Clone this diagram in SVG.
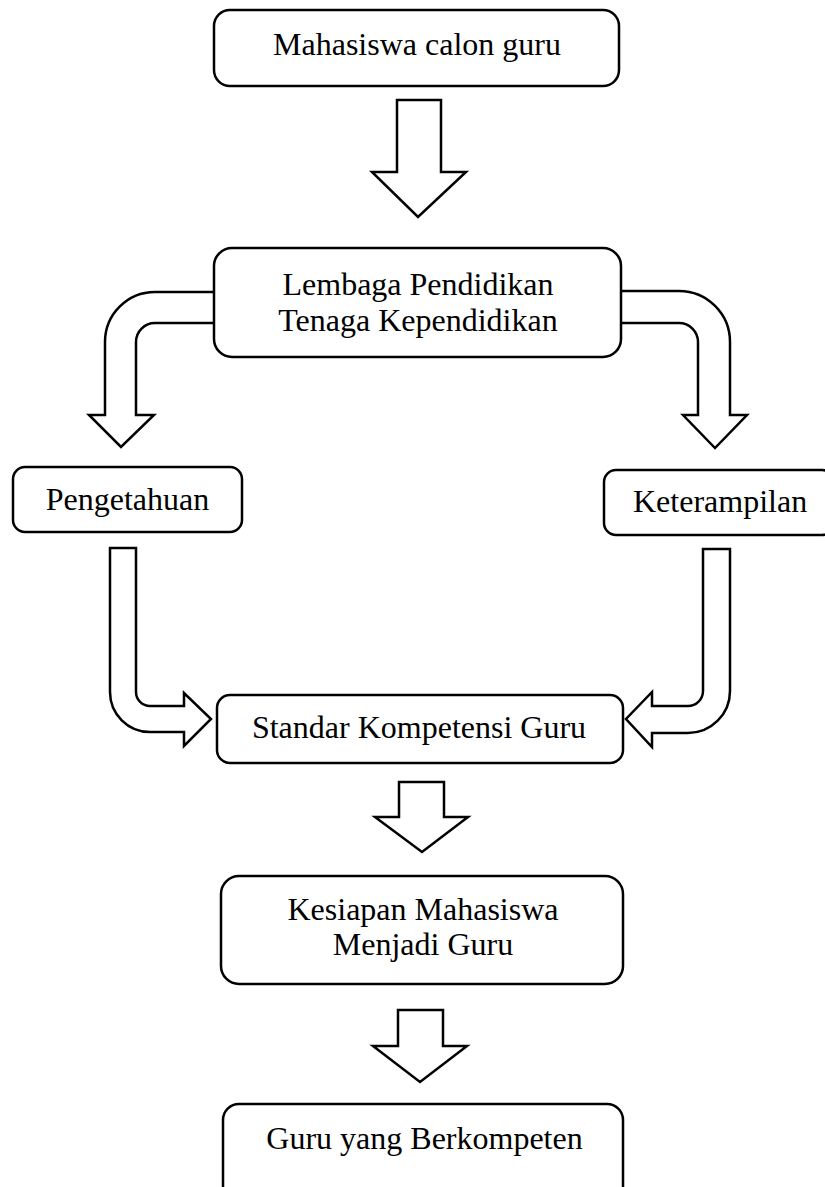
<svg xmlns="http://www.w3.org/2000/svg" width="825" height="1187" viewBox="0 0 825 1187">
<style>
.box{fill:#fff;stroke:#000;stroke-width:2.5}
.arr{fill:#fff;stroke:#000;stroke-width:2.5;stroke-linejoin:miter}
.t{font-family:"Liberation Serif","Times New Roman",serif;font-size:32px;fill:#000;text-anchor:middle}
</style>
<rect width="825" height="1187" fill="#fff"/>
<g id="connectors">
<polygon class="arr" points="397,100 441,100 441,172 466,172 418,217 372,172 397,172"/>
<path class="arr" d="M 214 292 L 155 292 A 50 50 0 0 0 105 342 L 105 415 L 89 415 L 121 447 L 154 415 L 136 415 L 136 342 A 19 19 0 0 1 155 323 L 214 323"/>
<path class="arr" d="M 622 291 L 679 291 A 51 51 0 0 1 730 342 L 730 415 L 747 415 L 715 448 L 683 415 L 698 415 L 698 342 A 19 19 0 0 0 679 323 L 622 323"/>
<path class="arr" d="M 110 548 L 136 548 L 136 692 A 14 14 0 0 0 150 706 L 184 706 L 184 693 L 211 719 L 184 746 L 184 732 L 150 732 A 40 40 0 0 1 110 692 Z"/>
<path class="arr" d="M 703 549 L 730 549 L 730 691 A 42 42 0 0 1 688 733 L 652 733 L 652 747 L 626 719 L 652 692 L 652 706 L 688 706 A 15 15 0 0 0 703 691 Z"/>
<polygon class="arr" points="399,782 444,782 444,817 468,817 422,852 375,817 399,817"/>
<polygon class="arr" points="398,1010 443,1010 443,1046 467,1046 420,1082 373,1046 398,1046"/>
</g>
<g id="node-mahasiswa">
<rect class="box" x="214" y="10" width="405" height="76" rx="16"/>
<text class="t" x="417" y="55">Mahasiswa calon guru</text>
</g>
<g id="node-lembaga">
<rect class="box" x="214" y="248" width="407" height="109" rx="18"/>
<text class="t" x="418" y="295">Lembaga Pendidikan</text>
<text class="t" x="418" y="331">Tenaga Kependidikan</text>
</g>
<g id="node-pengetahuan">
<rect class="box" x="13" y="467" width="229" height="65" rx="12"/>
<text class="t" x="127.5" y="510">Pengetahuan</text>
</g>
<g id="node-keterampilan">
<rect class="box" x="604" y="470" width="230" height="65" rx="12"/>
<text class="t" x="633" y="512" style="text-anchor:start">Keterampilan</text>
</g>
<g id="node-standar">
<rect class="box" x="217" y="695" width="406" height="68" rx="13"/>
<text class="t" x="419" y="738">Standar Kompetensi Guru</text>
</g>
<g id="node-kesiapan">
<rect class="box" x="221" y="876" width="402" height="108" rx="18"/>
<text class="t" x="423" y="920">Kesiapan Mahasiswa</text>
<text class="t" x="423" y="955">Menjadi Guru</text>
</g>
<g id="node-guru">
<rect class="box" x="223" y="1104" width="400" height="100" rx="16"/>
<text class="t" x="424.5" y="1149">Guru yang Berkompeten</text>
</g>
</svg>
